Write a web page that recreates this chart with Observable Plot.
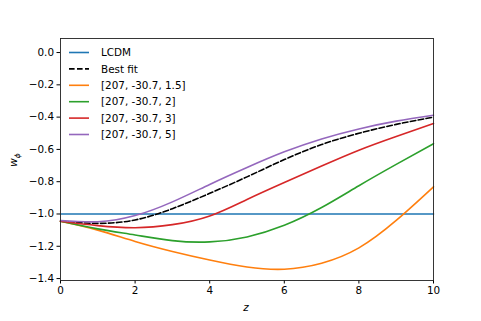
<!DOCTYPE html>
<html>
<head>
<meta charset="utf-8">
<script src="https://cdn.jsdelivr.net/npm/d3@7"></script>
<script src="https://cdn.jsdelivr.net/npm/@observablehq/plot@0.6"></script>
<style>
  html, body { margin: 0; padding: 0; background: #fff; }
  #chart { width: 481px; height: 321px; }
</style>
</head>
<body>
<div id="chart"></div>
<script>
// ---- data ----
const zValues = [0, 1, 2, 3, 4, 5, 6, 7, 8, 9, 10];
const lcdm    = [-1, -1, -1, -1, -1, -1, -1, -1, -1, -1, -1];
const bestFit = [-1.045, -1.058, -1.037, -0.967, -0.872, -0.770, -0.663, -0.570, -0.500, -0.445, -0.400];
const s15     = [-1.045, -1.100, -1.170, -1.232, -1.285, -1.328, -1.342, -1.305, -1.210, -1.040, -0.832];
const s2      = [-1.045, -1.092, -1.130, -1.165, -1.173, -1.142, -1.070, -0.960, -0.825, -0.693, -0.565];
const s3      = [-1.045, -1.072, -1.085, -1.066, -1.012, -0.910, -0.805, -0.703, -0.605, -0.520, -0.440];
const s5      = [-1.040, -1.048, -1.010, -0.925, -0.817, -0.712, -0.615, -0.535, -0.473, -0.425, -0.388];

const seriesNames = ["LCDM", "Best fit", "[207, -30.7, 1.5]", "[207, -30.7, 2]", "[207, -30.7, 3]", "[207, -30.7, 5]"];
const seriesValues = [lcdm, bestFit, s15, s2, s3, s5];
const seriesColors = ["#1f77b4", "#000000", "#ff7f0e", "#2ca02c", "#d62728", "#9467bd"];
const seriesDashed = [false, true, false, false, false, false];

const xTicks = [0, 2, 4, 6, 8, 10];
const yTicks = [-1.4, -1.2, -1.0, -0.8, -0.6, -0.4, -0.2, 0.0];

// tidy rows
const rows = [];
seriesNames.forEach((name, i) => {
  zValues.forEach((z, j) => rows.push({series: name, z, w: seriesValues[i][j]}));
});

const fmt = d => d.toFixed(1).replace("-", "\u2212");
const font = "DejaVu Sans, sans-serif";

const marks = [];
seriesNames.forEach((name, i) => {
  marks.push(Plot.line(rows.filter(r => r.series === name), {
    x: "z", y: "w",
    stroke: seriesColors[i],
    strokeWidth: 1.6,
    strokeDasharray: seriesDashed[i] ? "5.6,2.4" : null,
    curve: "natural"
  }));
});

const plot = Plot.plot({
  width: 481,
  height: 321,
  marginLeft: 60,
  marginRight: 48,
  marginTop: 38,
  marginBottom: 41,
  style: {fontFamily: font, fontSize: "10.4px", color: "#000", background: "#fff"},
  x: {domain: [0, 10]},
  y: {domain: [-1.412, 0.087]},
  marks: [
    Plot.axisX({ticks: xTicks, tickSize: 3.5, tickPadding: 3, label: null, tickFormat: d => String(d)}),
    Plot.axisY({ticks: yTicks, tickSize: 3.5, tickPadding: 3, label: null, tickFormat: fmt}),
    ...marks,
    Plot.frame({stroke: "#222", strokeWidth: 0.9})
  ]
});

document.getElementById("chart").appendChild(plot);

// ---- axis labels and legend (annotation layer) ----
const svg = d3.select(plot);

svg.append("text")
  .attr("x", 246).attr("y", 311)
  .attr("text-anchor", "middle")
  .attr("font-family", font).attr("font-size", "10.4px")
  .attr("font-style", "italic")
  .text("z");

const yl = svg.append("text")
  .attr("transform", "translate(17,160) rotate(-90)")
  .attr("text-anchor", "middle")
  .attr("font-family", font).attr("font-size", "10.4px");
yl.append("tspan").attr("font-style", "italic").text("w");
yl.append("tspan").attr("font-size", "7.5px").attr("dy", "2.5").attr("font-style", "italic").text("\u03d5");

const lg = svg.append("g").attr("transform", "translate(69,52.5)");
seriesNames.forEach((name, i) => {
  const g = lg.append("g").attr("transform", `translate(0,${i * 16.4})`);
  g.append("line")
    .attr("x1", 0).attr("x2", 20).attr("y1", 0).attr("y2", 0)
    .attr("stroke", seriesColors[i]).attr("stroke-width", 1.6)
    .attr("stroke-dasharray", seriesDashed[i] ? "5.6,2.4" : null);
  g.append("text")
    .attr("x", 32).attr("y", 0).attr("dy", "0.35em")
    .attr("text-anchor", "start")
    .attr("font-family", font).attr("font-size", "10.4px")
    .text(name);
});
</script>
</body>
</html>
